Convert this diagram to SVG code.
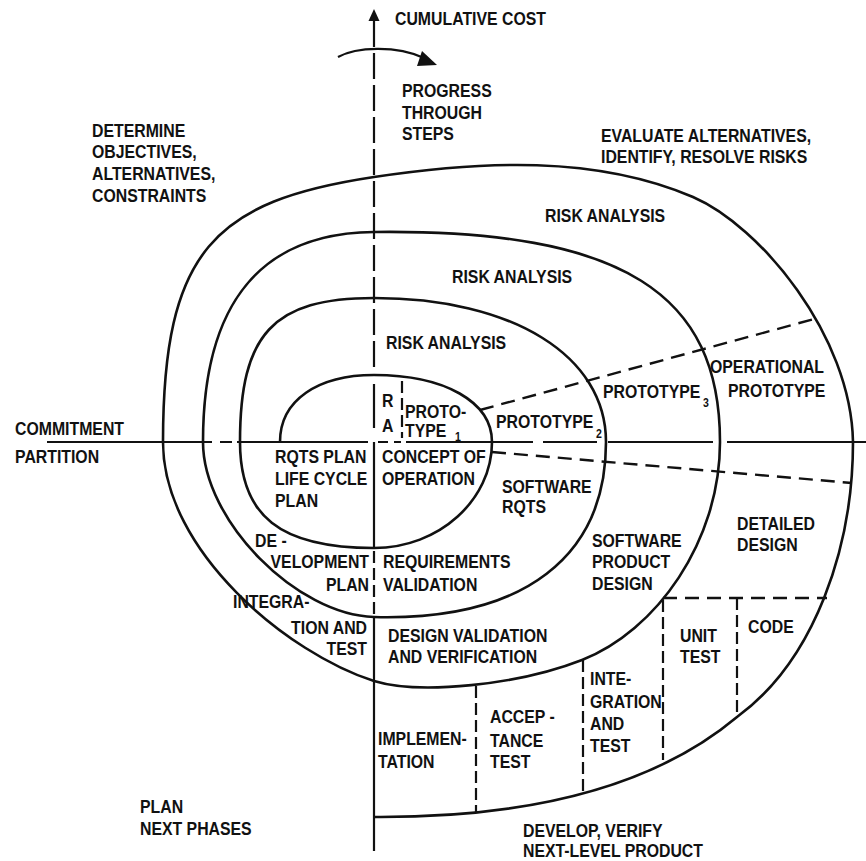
<svg xmlns="http://www.w3.org/2000/svg" width="866" height="861" viewBox="0 0 866 861">
  <style>
    .t { font-family: "Liberation Sans", Arial, sans-serif; font-weight: bold; font-size: 18px; fill: #111; }
    .s { font-family: "Liberation Sans", Arial, sans-serif; font-weight: bold; font-size: 12px; fill: #111; }
    .end { text-anchor: end; }
    .curve { fill: none; stroke: #111; stroke-width: 2.6; }
    .axis { fill: none; stroke: #111; stroke-width: 2.2; }
    .axis-dash { fill: none; stroke: #111; stroke-width: 2.2; stroke-dasharray: 26 6; }
    .boundary { fill: none; stroke: #111; stroke-width: 2.4; stroke-dasharray: 14 8; }
    .column { fill: none; stroke: #111; stroke-width: 2.2; stroke-dasharray: 12 5; }
  </style>
  <rect width="866" height="861" fill="#fff"/>

  <g id="lines">
    <!-- cumulative cost axis -->
    <polygon points="374,9 368.5,21 379.5,21" fill="#111"/>
    <path class="axis-dash" d="M374,21 V373"/>
    <path class="axis" d="M374,384 V428 M374,442 V548 M374,617 V851"/>
    <path class="column" d="M374,551 V614"/>
    <!-- commitment partition -->
    <path class="axis" d="M47,442 H212 M220,442 H232 M237,442 H368 M378,442 H388 M394,442 H401 M406,442 H533 M543,442 H597 M608,442 H713 M727,442 H866"/>

    <!-- progress arrow -->
    <path class="axis" d="M338,57 C356,47 396,45 424,58"/>
    <polygon points="437,65 422,51 417,66" fill="#111"/>

    <!-- spiral -->
    <path id="spiral" class="curve" d="M280,442
      C280,400 318,375 374,375
      C445,375 492,402 492,442
      C492,500 439,548 374,548
      C280,548 240,516 240,442
      C240,334 273,298 374,298
      C513,298 606,356 606,442
      C606,556 525,621 374,617
      C297,615 203,521 203,442
      C203,303 261,233 374,232
      C625,229 720,295 720,442
      C720,542 656,631 582,660
      C518,685 420,695 374,681
      C289,654 163,552 163,442
      C163,250 215,201 374,177
      C481,161 595,155 693,197
      C760,226 851,335 853,442
      C853,547 815,660 737,717
      C650,790 520,818 373,817"/>

    <!-- prototype boundaries -->
    <path class="boundary" d="M480,410 L814,319"/>
    <path class="boundary" d="M492,452 L852,483"/>
    <path class="column" d="M402,381 V438"/>

    <!-- development phase columns -->
    <path class="boundary" d="M663,598 H827"/>
    <path class="column" d="M663,600 V760 M737,598 V717 M583,660 V795 M476,686 V813"/>
  </g>

  <g id="quadrant-labels">
    <text class="t" transform="translate(395 25) scale(.88 1)">CUMULATIVE COST</text>
    <text class="t" transform="translate(402 97) scale(.88 1)"><tspan x="0" y="0">PROGRESS</tspan><tspan x="0" y="22">THROUGH</tspan><tspan x="0" y="43">STEPS</tspan></text>
    <text class="t" transform="translate(92 137) scale(.88 1)"><tspan x="0" y="0">DETERMINE</tspan><tspan x="0" y="21">OBJECTIVES,</tspan><tspan x="0" y="43">ALTERNATIVES,</tspan><tspan x="0" y="65">CONSTRAINTS</tspan></text>
    <text class="t" transform="translate(601 142) scale(.88 1)"><tspan x="0" y="0">EVALUATE ALTERNATIVES,</tspan><tspan x="0" y="21">IDENTIFY, RESOLVE RISKS</tspan></text>
    <text class="t" transform="translate(15 435) scale(.88 1)"><tspan x="0" y="0">COMMITMENT</tspan><tspan x="0" y="28">PARTITION</tspan></text>
    <text class="t" transform="translate(140 813) scale(.88 1)"><tspan x="0" y="0">PLAN</tspan><tspan x="0" y="22">NEXT PHASES</tspan></text>
    <text class="t" transform="translate(523 837) scale(.88 1)"><tspan x="0" y="0">DEVELOP, VERIFY</tspan><tspan x="0" y="20">NEXT-LEVEL PRODUCT</tspan></text>
  </g>

  <g id="risk-analysis">
    <text class="t" transform="translate(545 222) scale(.88 1)">RISK ANALYSIS</text>
    <text class="t" transform="translate(452 283) scale(.88 1)">RISK ANALYSIS</text>
    <text class="t" transform="translate(386 349) scale(.88 1)">RISK ANALYSIS</text>
    <text class="t" transform="translate(382 407) scale(.88 1)"><tspan x="0" y="0">R</tspan><tspan x="0" y="25">A</tspan></text>
  </g>

  <g id="prototypes">
    <text class="t" transform="translate(405 418) scale(.88 1)"><tspan x="0" y="0">PROTO-</tspan><tspan x="0" y="19">TYPE</tspan></text>
    <text class="s" transform="translate(455 441) scale(.88 1)">1</text>
    <text class="t" transform="translate(496 428) scale(.88 1)">PROTOTYPE</text>
    <text class="s" transform="translate(596 438) scale(.88 1)">2</text>
    <text class="t" transform="translate(603 398) scale(.88 1)">PROTOTYPE</text>
    <text class="s" transform="translate(703 407) scale(.88 1)">3</text>
    <text class="t" transform="translate(710 373) scale(.88 1)"><tspan x="0" y="0">OPERATIONAL</tspan><tspan x="20.5" y="24">PROTOTYPE</tspan></text>
  </g>

  <g id="plans">
    <text class="t" transform="translate(275 463) scale(.88 1)"><tspan x="0" y="0">RQTS PLAN</tspan><tspan x="0" y="22">LIFE CYCLE</tspan><tspan x="0" y="44">PLAN</tspan></text>
    <text class="t" transform="translate(255 547) scale(.88 1)">DE -</text>
    <text class="t end" transform="translate(369 568) scale(.88 1)"><tspan x="0" y="0">VELOPMENT</tspan><tspan x="0" y="23">PLAN</tspan></text>
    <text class="t" transform="translate(233 608) scale(.88 1)">INTEGRA-</text>
    <text class="t end" transform="translate(367 634) scale(.88 1)"><tspan x="0" y="0">TION AND</tspan><tspan x="0" y="21">TEST</tspan></text>
  </g>

  <g id="requirements">
    <text class="t" transform="translate(382 463) scale(.88 1)"><tspan x="0" y="0">CONCEPT OF</tspan><tspan x="0" y="22">OPERATION</tspan></text>
    <text class="t" transform="translate(502 493) scale(.88 1)"><tspan x="0" y="0">SOFTWARE</tspan><tspan x="0" y="20">RQTS</tspan></text>
    <text class="t" transform="translate(383 568) scale(.88 1)"><tspan x="0" y="0">REQUIREMENTS</tspan><tspan x="0" y="23">VALIDATION</tspan></text>
  </g>

  <g id="design">
    <text class="t" transform="translate(592 547) scale(.88 1)"><tspan x="0" y="0">SOFTWARE</tspan><tspan x="0" y="21">PRODUCT</tspan><tspan x="0" y="43">DESIGN</tspan></text>
    <text class="t" transform="translate(737 530) scale(.88 1)"><tspan x="0" y="0">DETAILED</tspan><tspan x="0" y="21">DESIGN</tspan></text>
    <text class="t" transform="translate(388 642) scale(.88 1)"><tspan x="0" y="0">DESIGN VALIDATION</tspan><tspan x="0" y="21">AND VERIFICATION</tspan></text>
  </g>

  <g id="build-steps">
    <text class="t" transform="translate(748 633) scale(.88 1)">CODE</text>
    <text class="t" transform="translate(680 642) scale(.88 1)"><tspan x="0" y="0">UNIT</tspan><tspan x="0" y="21">TEST</tspan></text>
    <text class="t" transform="translate(590 685) scale(.88 1)"><tspan x="0" y="0">INTE-</tspan><tspan x="0" y="23">GRATION</tspan><tspan x="0" y="45">AND</tspan><tspan x="0" y="67">TEST</tspan></text>
    <text class="t" transform="translate(490 723) scale(.88 1)"><tspan x="0" y="0">ACCEP -</tspan><tspan x="0" y="24">TANCE</tspan><tspan x="0" y="45">TEST</tspan></text>
    <text class="t" transform="translate(378 745) scale(.88 1)"><tspan x="0" y="0">IMPLEMEN-</tspan><tspan x="0" y="23">TATION</tspan></text>
  </g>
</svg>
